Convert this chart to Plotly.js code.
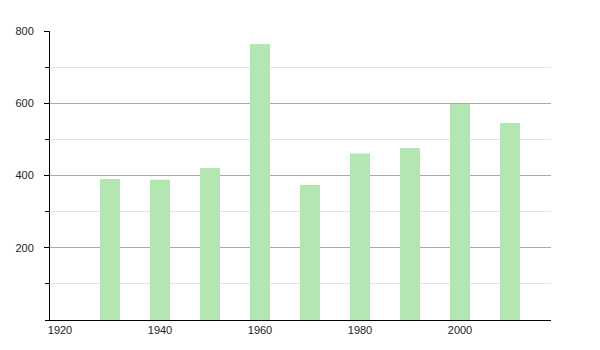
<!DOCTYPE html>
<html>
<head>
<meta charset="utf-8">
<script src="https://cdn.plot.ly/plotly-3.0.1.min.js"></script>
<style>html,body{margin:0;padding:0;background:#fff;}#chart{width:600px;height:350px;}</style>
</head>
<body>
<div id="chart"></div>
<script>
const years = [1930, 1940, 1950, 1960, 1970, 1980, 1990, 2000, 2010];
const population = [390, 388, 421, 764, 374, 461, 476, 598, 545];
const xTicks = [1920, 1940, 1960, 1980, 2000];
const yTicks = [200, 400, 600, 800];

const trace = {
  type: 'bar',
  x: years,
  y: population,
  width: 4,
  marker: {color: '#b3e6b0', line: {width: 0}},
  hoverinfo: 'x+y'
};

const layout = {
  width: 600,
  height: 350,
  margin: {l: 50, r: 49, t: 31, b: 30},
  paper_bgcolor: '#ffffff',
  plot_bgcolor: '#ffffff',
  showlegend: false,
  font: {family: 'Liberation Sans, Arial, sans-serif', size: 11, color: '#222'},
  xaxis: {
    range: [1918, 2018.2],
    tickmode: 'array',
    tickvals: xTicks,
    ticktext: xTicks.map(String),
    ticks: '',
    ticklabelstandoff: 0,
    showgrid: false,
    zeroline: false,
    showline: true,
    linecolor: '#000',
    linewidth: 1
  },
  yaxis: {
    range: [0, 800],
    tickmode: 'array',
    tickvals: yTicks,
    ticktext: yTicks.map(String),
    ticks: 'outside',
    ticklen: 5,
    tickcolor: '#000',
    ticklabelstandoff: 8,
    showgrid: true,
    gridcolor: '#ababab',
    gridwidth: 1,
    zeroline: false,
    showline: true,
    linecolor: '#000',
    linewidth: 1,
    minor: {
      tickmode: 'linear',
      tick0: 0,
      dtick: 100,
      ticks: 'outside',
      ticklen: 4,
      tickcolor: '#000',
      showgrid: true,
      gridcolor: '#e4e4e4',
      gridwidth: 1
    }
  }
};

Plotly.newPlot('chart', [trace], layout, {displayModeBar: false, staticPlot: true});
</script>
</body>
</html>
